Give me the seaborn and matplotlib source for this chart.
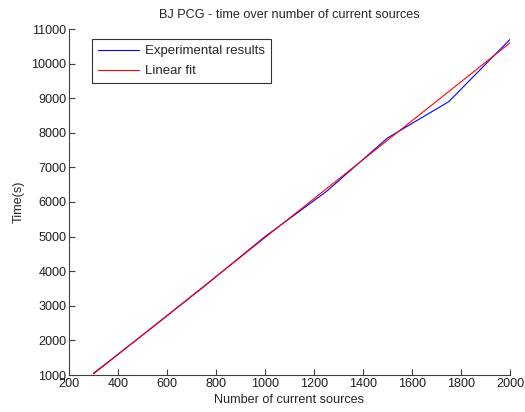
import matplotlib
matplotlib.use("Agg")
import matplotlib.pyplot as plt
import seaborn as sns
import pandas as pd

sources = [300, 500, 750, 1000, 1250, 1500, 1750, 2000]
times = [1050, 2150, 3550, 5000, 6300, 7850, 8900, 10700]
fit_x = [300, 2000]
fit_y = [1030, 10600]

sns.set_style("white")
plt.rcParams['font.family'] = ['Liberation Sans', 'DejaVu Sans']
FS = 9.1

fig = plt.figure(figsize=(5.25, 4.12), dpi=100)
ax = fig.add_axes([69/525, 37/412, 441/525, 346/412])

df_exp = pd.DataFrame({"x": sources, "y": times})
df_fit = pd.DataFrame({"x": fit_x, "y": fit_y})
sns.lineplot(data=df_exp, x="x", y="y", ax=ax, color=(0, 0, 1), lw=0.8,
             label="Experimental results")
sns.lineplot(data=df_fit, x="x", y="y", ax=ax, color=(1, 0, 0), lw=0.8,
             label="Linear fit")

ax.set_xlim(200, 2000)
ax.set_ylim(1000, 11000)
ax.set_xticks(range(200, 2001, 200))
ax.set_yticks(range(1000, 11001, 1000))
for s in ["top", "right"]:
    ax.spines[s].set_visible(False)
for s in ["left", "bottom"]:
    ax.spines[s].set_color("#404040")
    ax.spines[s].set_linewidth(0.8)
ax.tick_params(direction="in", length=4, width=0.8, color="#404040",
               labelsize=FS, labelcolor="#202020", pad=2,
               bottom=True, left=True)
ax.set_xlabel("Number of current sources", fontsize=FS, labelpad=3)
ax.set_ylabel("Time(s)", fontsize=FS, labelpad=5)
ax.set_title("BJ PCG - time over number of current sources", fontsize=FS, pad=8)

leg = ax.legend(loc="upper left", bbox_to_anchor=(23/441, 1 - 10/346),
                frameon=True, fancybox=False, fontsize=FS + 0.4, handlelength=3.1,
                borderaxespad=0, borderpad=0.45, labelspacing=0.6, handletextpad=0.5)
leg.get_frame().set_edgecolor("black")
leg.get_frame().set_linewidth(0.8)

fig.savefig("out.png", dpi=100)
